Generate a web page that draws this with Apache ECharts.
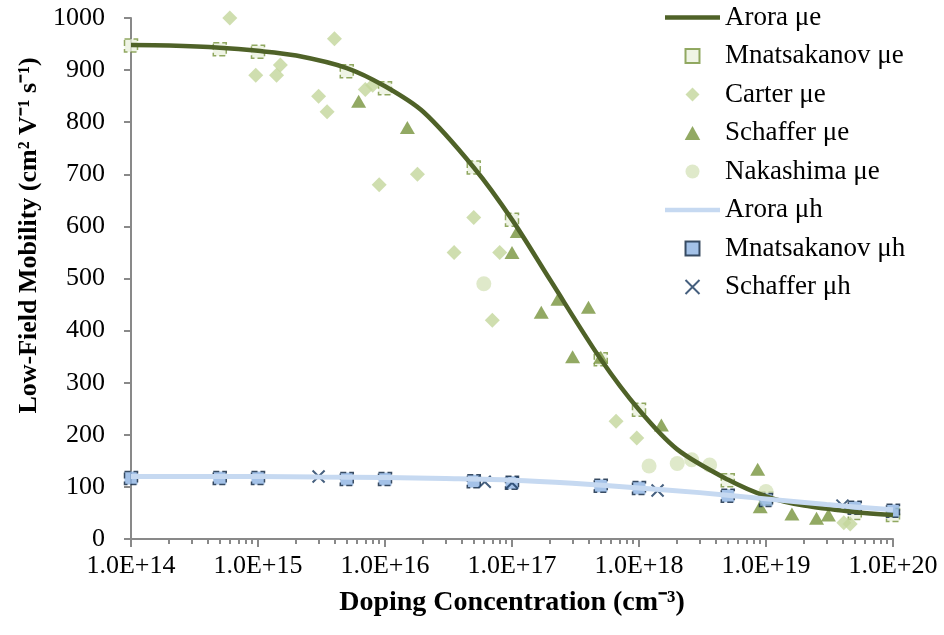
<!DOCTYPE html>
<html>
<head>
<meta charset="utf-8">
<script src="https://cdn.jsdelivr.net/npm/echarts@6/dist/echarts.min.js"></script>
<style>
  html, body { margin: 0; padding: 0; background: #fff; }
  #chart { width: 944px; height: 635px; }
</style>
</head>
<body>
<div id="chart"></div>
<script>
// Arora model curves
const aroraEX = [1e14, 2e14, 5e14, 1e15, 2e15, 5e15, 1e16, 2e16, 5e16, 1e17, 2e17, 5e17, 1e18, 2e18, 5e18, 1e19, 2e19, 5e19, 1e20]
const aroraE = [948, 947, 943, 937, 928, 904, 869, 820, 713, 613, 497, 345, 248, 172, 114, 82, 64, 52, 46]
const aroraHX = [1e14, 3e14, 1e15, 3e15, 1e16, 3e16, 1e17, 3e17, 1e18, 3e18, 1e19, 3e19, 1e20]
const aroraH = [120, 120, 120, 119, 118, 116, 113, 107, 98, 89, 77, 66, 56]

// Mnatsakanov
const mnatsX = [1e14, 5e14, 1e15, 5e15, 1e16, 5e16, 1e17, 5e17, 1e18, 5e18, 1e19, 5e19, 1e20]
const mnatsE = [947, 940, 935, 898, 865, 713, 613, 345, 248, 113, 78, 50, 46]
const mnatsH = [117, 117, 117, 115, 115, 111, 108, 102, 98, 83, 75, 60, 54]

// Carter
const carterX = [6e14, 9.6e14, 1.4e15, 1.5e15, 3e15, 3.5e15, 4e15, 7e15, 8e15, 9e15, 1.8e16, 3.5e16, 5e16, 7e16, 8e16, 6.6e17, 9.6e17, 4.1e19, 4.6e19]
const carterE = [1000, 890, 890, 910, 850, 820, 960, 863, 871, 680, 700, 550, 617, 420, 550, 226, 194, 31, 29]

// Schaffer
const schafferEX = [6.2e15, 1.5e16, 1e17, 1.1e17, 1.7e17, 2.3e17, 3e17, 4e17, 5e17, 1.5e18, 8.6e18, 9e18, 1.6e19, 2.5e19, 3.1e19]
const schafferE = [840, 790, 550, 590, 435, 460, 350, 445, 349, 219, 134, 62, 48, 40, 46]
const schafferHX = [3e15, 6.1e16, 1e17, 1.4e18, 4e19]
const schafferH = [120, 110, 108, 93, 64]

// Nakashima
const nakashimaX = [6e16, 1.2e18, 2e18, 2.6e18, 3.6e18, 1e19]
const nakashimaE = [490, 140, 145, 152, 142, 91]

const FONT = 'Liberation Serif'
const zip = (xs, ys) => xs.map((x, i) => [x, ys[i]])

// legend icons (path so the aspect is kept)
const ICON_LINE = 'path://M0,0h120v10h-120z'
const ICON_SQUARE = 'path://M0,0h10v10h-10z'
const ICON_DIAMOND = 'path://M5,0L10,5L5,10L0,5z'
const ICON_TRIANGLE = 'path://M5,0L10,9L0,9z'
const ICON_CIRCLE = 'path://M5,0A5,5,0,1,1,5,10A5,5,0,1,1,5,0z'
const ICON_CROSS = 'path://M0,0L10,10M10,0L0,10'

const chart = echarts.init(document.getElementById('chart'))
const option = {
  backgroundColor: '#fff',
  animation: false,
  textStyle: { fontFamily: FONT },
  grid: { left: 131, right: 51, top: 18, bottom: 96 },
  legend: {
    orient: 'vertical',
    left: 665,
    top: 4,
    padding: 0,
    itemGap: 11.5,
    itemWidth: 55,
    itemHeight: 14,
    symbolKeepAspect: true,
    textStyle: { fontFamily: FONT, fontSize: 27, color: '#000' },
    data: [
      { name: 'Arora μe', icon: ICON_LINE },
      { name: 'Mnatsakanov μe', icon: ICON_SQUARE },
      { name: 'Carter μe', icon: ICON_DIAMOND },
      { name: 'Schaffer μe', icon: ICON_TRIANGLE },
      { name: 'Nakashima μe', icon: ICON_CIRCLE },
      { name: 'Arora μh', icon: ICON_LINE },
      { name: 'Mnatsakanov μh', icon: ICON_SQUARE },
      { name: 'Schaffer μh', icon: ICON_CROSS }
    ]
  },
  xAxis: {
    type: 'log',
    logBase: 10,
    min: 1e14,
    max: 1e20,
    interval: 1,
    splitNumber: 6,
    name: 'Doping Concentration (cm⁻³)',
    nameLocation: 'middle',
    nameGap: 50,
    nameTextStyle: { fontFamily: FONT, fontSize: 28, fontWeight: 'bold', color: '#000' },
    axisLine: { lineStyle: { color: '#898989', width: 2 } },
    axisTick: { show: true, length: 8, lineStyle: { color: '#898989', width: 2 } },
    minorTick: { show: true, splitNumber: 9, length: 5, lineStyle: { color: '#898989', width: 2 } },
    splitLine: { show: false },
    axisLabel: {
      fontFamily: FONT,
      fontSize: 26,
      color: '#000',
      margin: 14,
      formatter: v => '1.0E+' + Math.round(Math.log10(v))
    }
  },
  yAxis: {
    type: 'value',
    min: 0,
    max: 1000,
    interval: 100,
    name: 'Low-Field Mobility (cm² V⁻¹ s⁻¹)',
    nameLocation: 'middle',
    nameGap: 78,
    nameTextStyle: { fontFamily: FONT, fontSize: 26, fontWeight: 'bold', color: '#000', padding: [0, 0, 0, 86] },
    axisLine: { show: true, lineStyle: { color: '#898989', width: 2 } },
    axisTick: { show: true, length: 7, lineStyle: { color: '#898989', width: 2 } },
    splitLine: { show: false },
    axisLabel: { fontFamily: FONT, fontSize: 26, color: '#000', margin: 26, formatter: v => String(v) }
  },
  series: [
    {
      name: 'Arora μe',
      type: 'line',
      data: zip(aroraEX, aroraE),
      smooth: 0.3,
      symbol: 'none',
      lineStyle: { color: '#4f6228', width: 4.5 },
      itemStyle: { color: '#4f6228' }
    },
    {
      name: 'Mnatsakanov μe',
      type: 'scatter',
      data: zip(mnatsX, mnatsE),
      symbol: 'rect',
      symbolSize: 13,
      clip: false,
      itemStyle: { color: '#ebf1de', borderColor: '#77933c', borderWidth: 1.5, borderType: 'dashed' }
    },
    {
      name: 'Carter μe',
      type: 'scatter',
      data: zip(carterX, carterE),
      symbol: 'diamond',
      symbolSize: 15,
      clip: false,
      itemStyle: { color: '#c3d69b' }
    },
    {
      name: 'Schaffer μe',
      type: 'scatter',
      data: zip(schafferEX, schafferE),
      symbol: 'triangle',
      symbolSize: [15, 13],
      clip: false,
      itemStyle: { color: '#77933c' }
    },
    {
      name: 'Nakashima μe',
      type: 'scatter',
      data: zip(nakashimaX, nakashimaE),
      symbol: 'circle',
      symbolSize: 15,
      clip: false,
      itemStyle: { color: '#d7e4bd' }
    },
    {
      name: 'Arora μh',
      type: 'line',
      data: zip(aroraHX, aroraH),
      smooth: 0.3,
      symbol: 'none',
      lineStyle: { color: '#c6d9f1', width: 5 },
      itemStyle: { color: '#c6d9f1' }
    },
    {
      name: 'Mnatsakanov μh',
      type: 'scatter',
      data: zip(mnatsX, mnatsH),
      symbol: 'rect',
      symbolSize: 13,
      clip: false,
      itemStyle: { color: '#8db3e2', borderColor: '#10253f', borderWidth: 1.5, borderType: 'dashed' }
    },
    {
      name: 'Schaffer μh',
      type: 'scatter',
      data: zip(schafferHX, schafferH),
      symbol: 'path://M0,0L10,10M10,0L0,10',
      symbolSize: 12,
      clip: false,
      itemStyle: { color: 'transparent', borderColor: '#17375e', borderWidth: 2 }
    }
  ]
}
chart.setOption(option)
</script>
</body>
</html>
